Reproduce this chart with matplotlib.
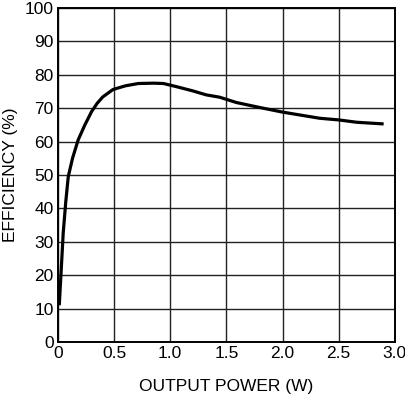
import matplotlib
matplotlib.use("Agg")
import matplotlib.pyplot as plt

# efficiency curve
power = [0.012, 0.03, 0.047, 0.07, 0.092, 0.13, 0.18, 0.24, 0.30, 0.35, 0.40, 0.49,
         0.60, 0.715, 0.85, 0.94, 1.05, 1.2, 1.32, 1.44, 1.59, 1.8, 1.99, 2.15,
         2.33, 2.5, 2.66, 2.9]
efficiency = [11, 22, 32.6, 42, 49.5, 55, 60.5, 65, 69, 71.5, 73.4, 75.6,
              76.7, 77.4, 77.5, 77.4, 76.5, 75.2, 74, 73.3, 71.7, 70.2, 68.9, 68,
              67, 66.5, 65.8, 65.3]

plt.rcParams['font.family'] = ['Liberation Sans', 'DejaVu Sans']

fig = plt.figure(figsize=(4.05, 4.01), dpi=100)
ax = fig.add_axes([0.143, 0.147, 0.832, 0.833])

ax.plot(power, efficiency, color='black', linewidth=2.3, solid_capstyle='butt')

ax.set_xlim(0, 3.0)
ax.set_ylim(0, 100)
ax.set_xticks([0, 0.5, 1.0, 1.5, 2.0, 2.5, 3.0])
ax.set_xticklabels(['0', '0.5', '1.0', '1.5', '2.0', '2.5', '3.0'])
ax.set_yticks(range(0, 101, 10))
ax.grid(True, color='#222222', linewidth=1.0)
ax.tick_params(length=0, labelsize=12.5, pad=3)
for s in ax.spines.values():
    s.set_linewidth(1.4)
    s.set_color('black')

ax.set_xlabel('OUTPUT POWER (W)', fontsize=12.5, labelpad=13)
ax.set_ylabel('EFFICIENCY (%)', fontsize=12.5, labelpad=5)

fig.savefig('out.png', dpi=100)
